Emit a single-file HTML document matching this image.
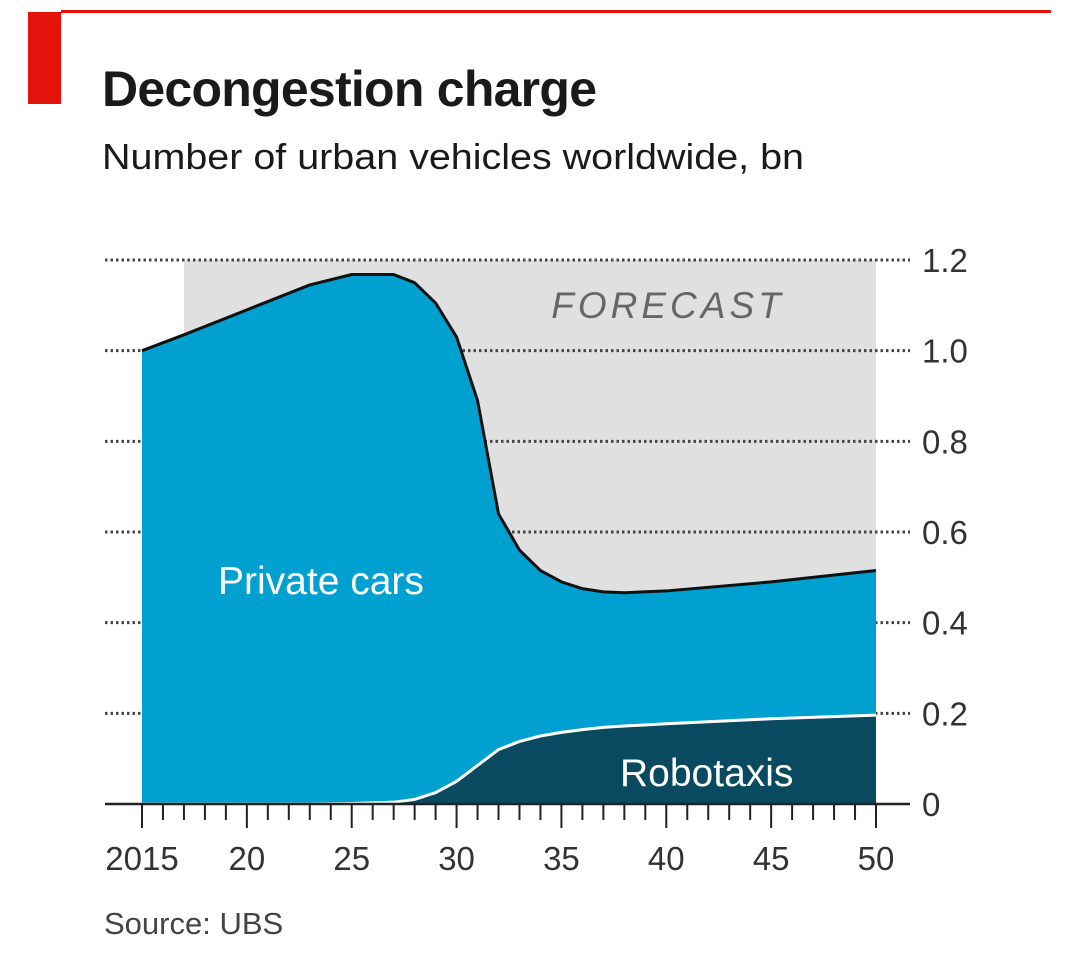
<!DOCTYPE html>
<html><head><meta charset="utf-8"><style>
body{margin:0;background:#fff;width:1080px;height:953px;overflow:hidden;font-family:"Liberation Sans",sans-serif}
</style></head><body>
<svg width="1080" height="953">
<rect x="28" y="12" width="33" height="92" fill="#e3120b"/>
<rect x="61" y="10" width="990" height="3" fill="#e3120b"/>
<text x="102" y="106" font-size="50" font-weight="bold" fill="#1a1a1a" textLength="495">Decongestion charge</text>
<text x="102" y="169" font-size="36" fill="#1a1a1a" textLength="702" lengthAdjust="spacingAndGlyphs">Number of urban vehicles worldwide, bn</text>
<g id="plot"></g>
<text x="104" y="934" font-size="31" fill="#444">Source: UBS</text>
</svg>
<script>
const years=[2015,2017,2020,2023,2025,2027,2028,2029,2030,2031,2032,2033,2034,2035,2036,2037,2038,2040,2045,2050];
const privateTotal=[1.0,1.035,1.09,1.145,1.168,1.168,1.15,1.105,1.03,0.89,0.64,0.56,0.515,0.49,0.475,0.468,0.466,0.47,0.49,0.515];
const robotaxis=[0,0,0,0,0.001,0.004,0.01,0.025,0.05,0.085,0.12,0.138,0.15,0.158,0.164,0.169,0.172,0.177,0.188,0.196];
const yTicks=[0,0.2,0.4,0.6,0.8,1.0,1.2];
const yTickLabels=["0","0.2","0.4","0.6","0.8","1.0","1.2"];
const xMajor=[2015,2020,2025,2030,2035,2040,2045,2050];
const xLabels=["2015","20","25","30","35","40","45","50"];
const forecastStart=2017;
const NS="http://www.w3.org/2000/svg";
const X=y=>142+(y-2015)*(734/35);
const Y=v=>804-v*(544/1.2);
const g=document.getElementById('plot');
function mk(t,a){const e=document.createElementNS(NS,t);for(const k in a)e.setAttribute(k,a[k]);g.appendChild(e);return e;}
let e=mk('rect',{x:X(forecastStart),y:Y(1.2),width:X(2050)-X(forecastStart),height:Y(0)-Y(1.2),fill:'#e1e0e1'});


e=mk('text',{x:668,y:318,'font-size':37,'font-style':'italic',fill:'#666','text-anchor':'middle','letter-spacing':'4'});e.textContent='FORECAST';


yTicks.forEach((v,i)=>{if(v>0){const l=mk('line',{x1:105,x2:910,y1:Y(v),y2:Y(v),stroke:'#444','stroke-width':3,'stroke-dasharray':'2.5 3'});

}
const t=mk('text',{x:922,y:Y(v)+12,'font-size':33,fill:'#333'});t.textContent=yTickLabels[i];

});
const pts=a=>years.map((y,i)=>X(y)+','+Y(a[i])).join(' L');
e=mk('path',{d:'M'+pts(privateTotal)+' L'+X(2050)+','+Y(0)+' L'+X(2015)+','+Y(0)+'Z',fill:'#00a0d0'});


e=mk('path',{d:'M'+pts(privateTotal),fill:'none',stroke:'#111','stroke-width':3,'stroke-linejoin':'round'});


e=mk('path',{d:'M'+pts(robotaxis)+' L'+X(2050)+','+Y(0)+' L'+X(2015)+','+Y(0)+'Z',fill:'#0a4a60'});


e=mk('path',{d:'M'+pts(robotaxis),fill:'none',stroke:'#fff','stroke-width':3});


e=mk('text',{x:218,y:594,'font-size':39,fill:'#fff'});e.textContent='Private cars';


e=mk('text',{x:620,y:786,'font-size':39,fill:'#fff'});e.textContent='Robotaxis';


e=mk('line',{x1:105,x2:910,y1:Y(0),y2:Y(0),stroke:'#222','stroke-width':2.5});


for(let y=2015;y<=2050;y++){const maj=xMajor.includes(y);const l=mk('line',{x1:X(y),x2:X(y),y1:Y(0),y2:Y(0)+(maj?24:16),stroke:'#222','stroke-width':2});

}
xMajor.forEach((y,i)=>{const t=mk('text',{x:X(y),y:870,'font-size':33,fill:'#333','text-anchor':'middle'});t.textContent=xLabels[i];

});
</script>
</body></html>
